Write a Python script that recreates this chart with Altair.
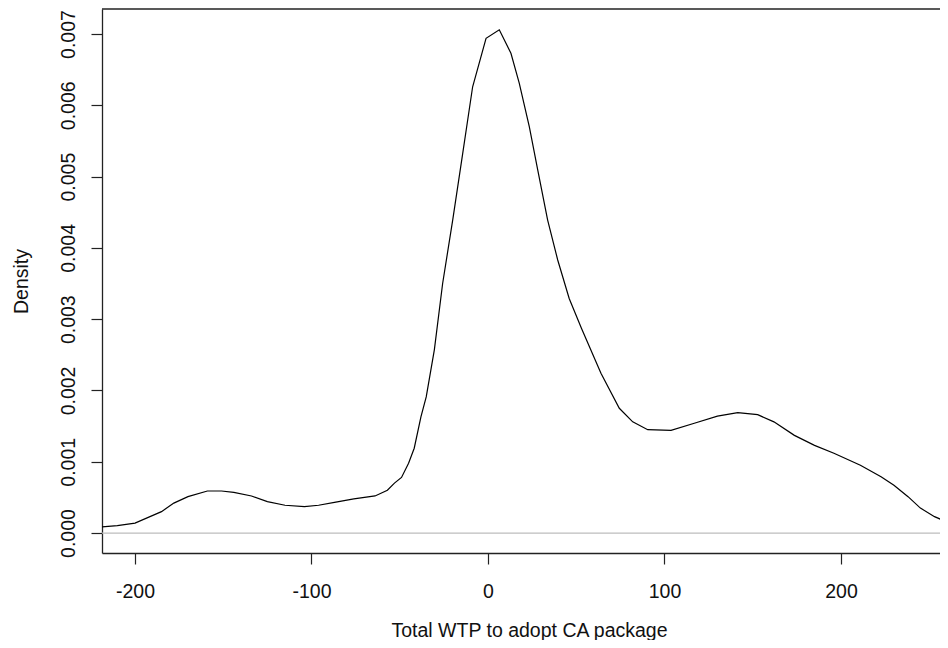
import altair as alt
import pandas as pd

# Density curve
wtp = [-219, -210, -200, -185, -178, -170, -159, -151, -144, -134, -125, -115,
       -104, -96, -87, -76, -64, -57, -53, -49, -45, -41.8, -38, -35, -30.4,
       -25.7, -20, -14.3, -8.7, -1.1, 6.4, 13, 17.7, 23.4, 28.2, 33.8, 39.5,
       46, 53, 64, 74.4, 82, 90.5, 103.7, 116.9, 130, 141.5, 152.8, 162,
       173.6, 185, 196, 211, 222.7, 230, 238, 245, 253, 261]
density = [0.000085, 0.000105, 0.00014, 0.0003, 0.00042, 0.00051, 0.00059,
           0.00059, 0.00057, 0.00052, 0.00044, 0.00039, 0.00037, 0.00039,
           0.00043, 0.00048, 0.00052, 0.0006, 0.0007, 0.00078, 0.00098,
           0.00119, 0.00163, 0.00191, 0.00257, 0.0035, 0.00439, 0.00533,
           0.00626, 0.00694, 0.00706, 0.00673, 0.00631, 0.0057, 0.00509,
           0.00439, 0.00383, 0.00329, 0.00287, 0.00224, 0.00175, 0.00156,
           0.00145, 0.00144, 0.00154, 0.00164, 0.00169, 0.00166, 0.00156,
           0.00137, 0.00123, 0.00112, 0.00095, 0.00079, 0.00067, 0.00051,
           0.00035, 0.00023, 0.000145]

x_ticks = [-200, -100, 0, 100, 200]
y_ticks = [0.0, 0.001, 0.002, 0.003, 0.004, 0.005, 0.006, 0.007]

x_title = "Total WTP to adopt CA package"
y_title = "Density"

df = pd.DataFrame({"wtp": wtp, "density": density})

FONT = "Liberation Sans"
FS = 19.5

x_scale = alt.Scale(domain=[-218.7, 256.1], nice=False, zero=False)
y_scale = alt.Scale(domain=[-0.00028, 0.007351], nice=False, zero=False)

x_enc = alt.X(
    "wtp:Q", scale=x_scale,
    axis=alt.Axis(
        values=x_ticks, labelExpr="'' + datum.value", title=x_title, grid=False,
        tickSize=11, tickColor="#222222", tickWidth=1.2,
        domainColor="#222222", domainWidth=1.3,
        labelFont=FONT, labelFontSize=FS, labelColor="#111111",
        labelBaseline="alphabetic", labelPadding=33, labelFlush=False,
        titleFont=FONT, titleFontSize=FS, titleFontWeight="normal",
        titleColor="#111111", titleX=427, titleY=83,
        titleBaseline="alphabetic", titleAlign="center",
    ),
)
y_enc = alt.Y(
    "density:Q", scale=y_scale,
    axis=alt.Axis(
        values=y_ticks, format=".3f", title=y_title, grid=False,
        tickSize=11, tickColor="#222222", tickWidth=1.2,
        domainColor="#222222", domainWidth=1.3,
        labelFont=FONT, labelFontSize=FS, labelColor="#111111",
        labelAngle=270, labelAlign="center", labelBaseline="alphabetic",
        labelPadding=17, labelFlush=False,
        titleFont=FONT, titleFontSize=FS, titleFontWeight="normal",
        titleColor="#111111", titleAngle=270, titleX=-75, titleY=272,
        titleBaseline="alphabetic", titleAlign="center",
    ),
)

line = alt.Chart(df).mark_line(color="#000000", strokeWidth=1.2, clip=True).encode(
    x=x_enc, y=y_enc
)

zero_rule = alt.Chart(pd.DataFrame({"z": [0.0]})).mark_rule(
    color="#bdbdbd", strokeWidth=1.2
).encode(y=alt.Y("z:Q", scale=y_scale))

top_rule = alt.Chart(pd.DataFrame({"z": [0.0]})).mark_rule(
    color="#222222", strokeWidth=1.5
).encode(y=alt.value(0))

chart = (
    alt.layer(zero_rule, line, top_rule)
    .properties(
        width=838, height=544,
        padding={"left": 94, "top": 1, "right": 0, "bottom": 87},
        autosize=alt.AutoSizeParams(type="none"),
        background="#ffffff",
    )
    .configure_view(stroke=None)
)

chart.save("out.html", embed_options={"renderer": "svg", "actions": False})
